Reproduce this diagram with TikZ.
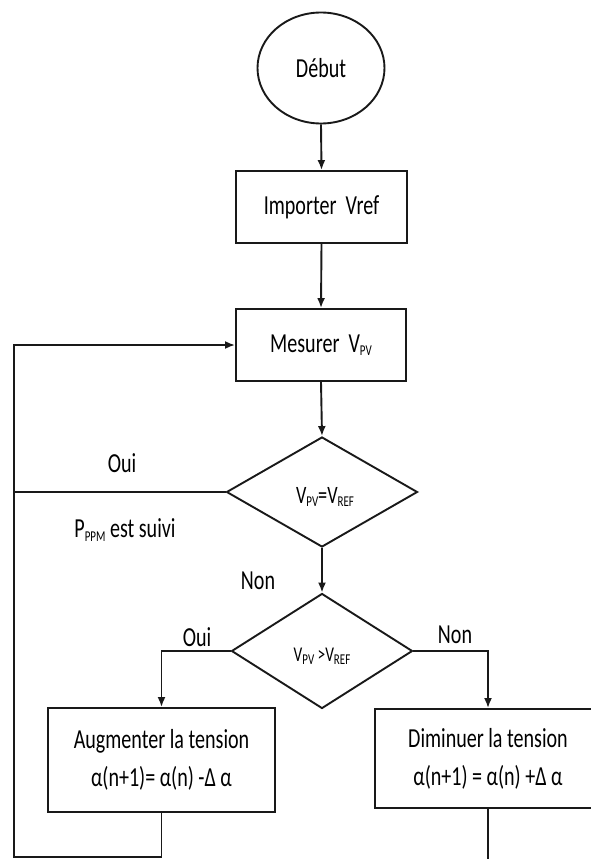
\documentclass[tikz,border=0pt]{standalone}
\usepackage{fontspec}
\setmainfont{Carlito}[FakeStretch=0.73]
\usetikzlibrary{shapes.geometric,arrows.meta}
% small lowered index letters (V_PV, V_REF, P_PPM)
\newcommand\lowtxt[1]{\raisebox{-0.12em}{\fontsize{15}{15}\selectfont #1}}

\begin{document}
\begin{tikzpicture}[x=1pt,y=-1pt,
  every node/.style={font=\fontsize{27.5}{38}\selectfont, text=black},
  line/.style={line width=1.9pt, draw=black!90},
  arrow/.style={line, -{Latex[length=10pt,width=8pt]}},
  procbox/.style={rectangle, line, inner sep=0pt, align=center},
  decision/.style={diamond, line, inner sep=0pt},
  label/.style={inner sep=0pt}
]
\useasboundingbox (0,0) rectangle (591,859);
\clip (0,0) rectangle (591,859);

% main column
\node[ellipse, line, minimum width=127pt, minimum height=111pt, inner sep=0pt] (debut) at (321,68) {Début};
\node[procbox, minimum width=171pt, minimum height=72pt] (importer) at (321.5,207) {Importer~~Vref};
\node[procbox, minimum width=170pt, minimum height=72pt] (mesurer) at (321,345) {Mesurer~~V\lowtxt{PV}};
\node[decision, minimum width=191pt, minimum height=110pt] (d1) at (322,492) {};
\node[label, font=\fontsize{25}{30}\selectfont] (d1t) at (325,497) {V\lowtxt{PV}=V\lowtxt{REF}};
\node[decision, minimum width=181pt, minimum height=115pt] (d2) at (322,651) {};
\node[label, font=\fontsize{21}{26}\selectfont] (d2t) at (322,656) {V\lowtxt{PV} >V\lowtxt{REF}};

% branches
\node[procbox, minimum width=227pt, minimum height=104pt] (aug) at (161.5,760)
  {Augmenter la tension\\α(n+1)= α(n) -Δ α};
\node[procbox, minimum width=226pt, minimum height=99pt] (dim) at (488,758.5)
  {Diminuer la tension\\α(n+1) = α(n) +Δ α};

% labels
\node[label] (oui1) at (122,463) {Oui};
\node[label] (suivi) at (125,530) {P\lowtxt{PPM} est suivi};
\node[label] (non1) at (258,581) {Non};
\node[label] (oui2) at (197,637) {Oui};
\node[label] (non2) at (455,635) {Non};

% loop-back coordinates
\coordinate (lb) at (14,857);
\coordinate (lt) at (14,345);
\coordinate (ly) at (14,492);
\coordinate (rb) at (488,875);

% connectors
\draw[arrow] (debut.south) -- (importer.north);
\draw[arrow] (importer.south) -- (mesurer.north);
\draw[arrow] (mesurer.south) -- (d1.north);
\draw[arrow] (d1.south) -- (d2.north);
\draw[arrow] (d2.west) -| (aug.north);
\draw[arrow] (d2.east) -| (dim.north);
\draw[line] (d1.west) -- (ly);
\draw[arrow] (aug.south) |- (lb) -- (lt) -- (mesurer.west);
\draw[line] (dim.south) -- (rb);
\end{tikzpicture}
\end{document}
